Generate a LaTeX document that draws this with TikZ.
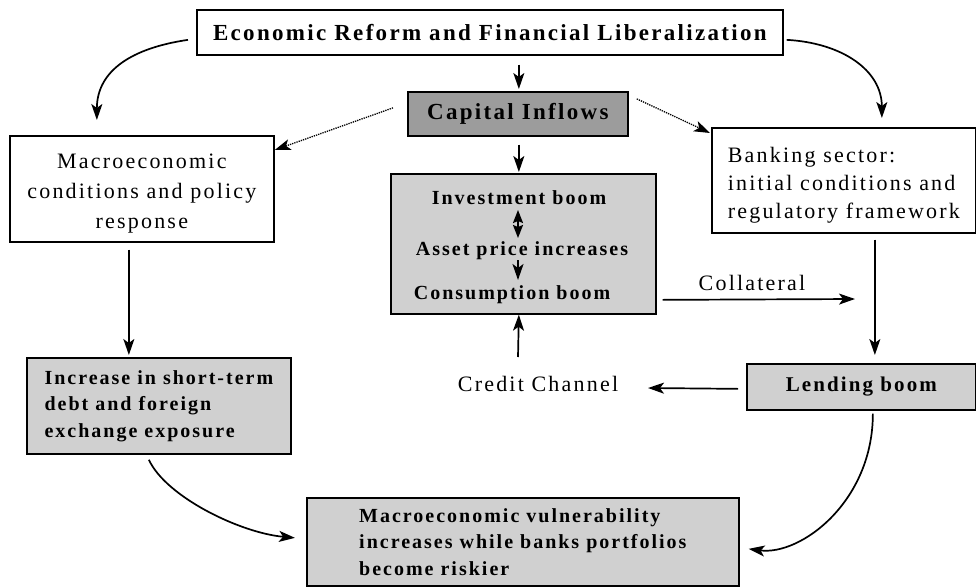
\documentclass[tikz,border=0pt]{standalone}
\usepackage{fontspec}
\setmainfont{Liberation Serif}[LetterSpace=10]
\usetikzlibrary{arrows.meta,calc}
\definecolor{darkfill}{HTML}{9C9C9C}
\definecolor{lightfill}{HTML}{D0D0D0}
\begin{document}
\begin{tikzpicture}[x=1pt,y=-1pt,
  box/.style={draw,line width=1.7pt,inner sep=0pt,anchor=north west},
  reg/.style={font=\fontsize{22}{29}\selectfont},
  bld/.style={font=\fontsize{20}{26.5}\selectfont\bfseries},
  bigbld/.style={font=\fontsize{23}{28}\selectfont\bfseries},
  arr/.style={line width=1.7pt,-{Stealth[length=16pt,width=11pt,inset=4pt]}},
  dbl/.style={line width=1.7pt,{Stealth[length=13pt,width=10pt,inset=2pt]}-{Stealth[length=13pt,width=10pt,inset=2pt]}},
  dots/.style={line width=1.3pt,densely dotted,-{Stealth[length=16pt,width=11pt,inset=4pt]}}]
\useasboundingbox (0,0) rectangle (976,586);

% boxes
\node[box,bigbld,minimum width=586,minimum height=45] (top) at (196,9) {Economic Reform and Financial Liberalization};
\node[box,bigbld,fill=darkfill,minimum width=220,minimum height=44] (cap) at (407,91) {Capital Inflows};
\node[box,fill=lightfill,minimum width=265,minimum height=140] (mid) at (390,173) {};
\node[bld] (inv) at (519,198) {Investment boom};
\node[bld] (asset) at (522,251) {Asset price increases};
\node[bld] (cons) at (512,295) {Consumption boom};
\node[box,minimum width=264,minimum height=106] (macro) at (9,135) {};
\node[reg,align=center,font=\fontsize{22}{30}\selectfont] (macrotext) at ($(macro.center)+(0,5)$) {Macroeconomic\\conditions and policy\\response};
\node[box,minimum width=264,minimum height=105] (bank) at (711,127) {};
\node[reg,align=left,font=\fontsize{22}{28}\selectfont] (banktext) at ($(bank.center)+(0,5)$) {Banking sector:\\initial conditions and\\regulatory framework};
\node[box,bld,align=left,fill=lightfill,minimum width=264,minimum height=96] (inc) at (26,357) {Increase in short-term\\debt and foreign\\exchange exposure};
\node[box,font=\fontsize{21}{26}\selectfont\bfseries,fill=lightfill,minimum width=229,minimum height=46] (lend) at (746,363) {Lending boom};
\node[box,bld,align=left,fill=lightfill,minimum width=432,minimum height=88] (bot) at (306,497) {Macroeconomic vulnerability\\increases while banks portfolios\\become riskier};
\node[reg] (credit) at (538,384) {Credit Channel};
\node[reg] (coll) at (752,283) {Collateral};
\coordinate (collend) at (855,299);

% straight arrows
\draw[arr] ($(top.south -| cap.north)+(1,9)$) -- ($(cap.north)+(1,-2)$);
\draw[arr] ($(cap.south)+(1,8)$) -- ($(cap.south |- mid.north)+(1,-1)$);
\draw[dbl] ($(inv.center)+(-1,12)$) -- ($(inv.center)+(-1,40)$);
\draw[arr] ($(asset.center)+(-4,9)$) -- ($(asset.center)+(-4,29)$);
\draw[arr] ($(macro.south)+(-13,7)$) -- ($(inc.north)+(-30,-2)$);
\draw[arr] ($(bank.south)+(31,6)$) -- ($(lend.north)+(13.5,-8)$);
\draw[arr] ($(lend.west)+(-8,2)$) -- ($(credit.center)+(110,4)$);
\draw[arr] ($(credit.center)+(-20,-27)$) -- ($(mid.south)+(-4.5,0)$);
\draw[arr] ($(mid.east)+(6,56)$) -- (collend);

% dotted arrows
\draw[dots] ($(cap.west)+(-14,-6)$) -- ($(macro.north east)+(0,15)$);
\draw[dots] ($(cap.east)+(8,-15)$) -- ($(bank.north west)+(-1,6)$);

% curved arrows
\draw[arr] ($(top.west)+(-8,7.5)$) .. controls +(-55,8) and +(0,-50) .. ($(macro.north)+(-45,-15)$);
\draw[arr] ($(top.east)+(3,7.5)$) .. controls +(55,3) and +(0,-48) .. ($(bank.north)+(38,-9)$);
\draw[arr] ($(inc.south)+(-10,5)$) .. controls +(17,37) and +(-55,-5) .. ($(bot.west)+(-11,-4)$);
\draw[arr] ($(lend.south)+(11.5,3)$) .. controls +(0,88) and +(52,7) .. ($(bot.east)+(9,7)$);
\end{tikzpicture}
\end{document}
